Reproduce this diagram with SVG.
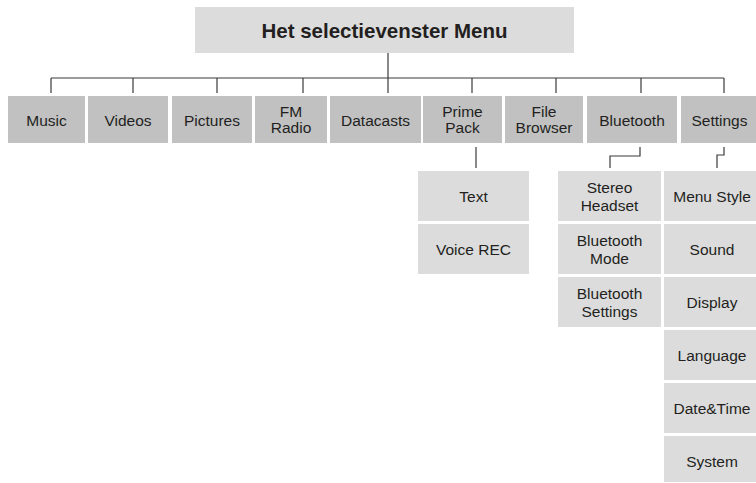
<svg xmlns="http://www.w3.org/2000/svg" width="756" height="483" viewBox="0 0 756 483">
<style>
.t{font-family:"Liberation Sans",Arial,sans-serif;font-size:15.5px;fill:#231f20;text-anchor:middle}
.h{font-family:"Liberation Sans",Arial,sans-serif;font-size:20.5px;font-weight:bold;fill:#231f20;text-anchor:middle}
.top{fill:#c1c1c2}
.sub{fill:#dcdcdd}
.c{fill:none;stroke:#3a3a3a;stroke-width:1.2}
</style>
<rect width="756" height="483" fill="#ffffff"/>
<g id="connectors">
<path class="c" d="M388,53 V78 M51,78 H724 M51,78 V93 M133,78 V93 M217,78 V93 M303,78 V93 M388,78 V93 M472,78 V93 M556,78 V93 M641,78 V93 M724,78 V93"/>
<path class="c" d="M476,147 V168"/>
<path class="c" d="M640,147 V156 H610 V168"/>
<path class="c" d="M724,147 V155 H717 V168"/>
</g>
<g id="title"><rect class="sub" x="195" y="7" width="379" height="46"/><text class="h" x="384.5" y="37.5">Het selectievenster Menu</text></g>
<g id="music"><rect class="top" x="8" y="96" width="77" height="47"/><text class="t" x="46.5" y="125.5">Music</text></g>
<g id="videos"><rect class="top" x="88" y="96" width="80" height="47"/><text class="t" x="128" y="125.5">Videos</text></g>
<g id="pictures"><rect class="top" x="172" y="96" width="80" height="47"/><text class="t" x="212" y="125.5">Pictures</text></g>
<g id="fmradio"><rect class="top" x="255" y="96" width="72" height="47"/><text class="t" x="291" y="116.5">FM</text><text class="t" x="291" y="132.5">Radio</text></g>
<g id="datacasts"><rect class="top" x="330" y="96" width="91" height="47"/><text class="t" x="375.5" y="125.5">Datacasts</text></g>
<g id="primepack"><rect class="top" x="423" y="96" width="79" height="47"/><text class="t" x="462.5" y="116.5">Prime</text><text class="t" x="462.5" y="132.5">Pack</text></g>
<g id="filebrowser"><rect class="top" x="505" y="96" width="78" height="47"/><text class="t" x="544" y="116.5">File</text><text class="t" x="544" y="132.5">Browser</text></g>
<g id="bluetooth"><rect class="top" x="587" y="96" width="90" height="47"/><text class="t" x="632" y="125.5">Bluetooth</text></g>
<g id="settings"><rect class="top" x="681" y="96" width="75" height="47"/><text class="t" x="719.5" y="125.5">Settings</text></g>
<g id="text"><rect class="sub" x="418" y="171" width="111" height="50"/><text class="t" x="473.5" y="202">Text</text></g>
<g id="voicerec"><rect class="sub" x="418" y="224" width="111" height="50"/><text class="t" x="473.5" y="255">Voice REC</text></g>
<g id="stereoheadset"><rect class="sub" x="558" y="171" width="103" height="50"/><text class="t" x="609.5" y="193">Stereo</text><text class="t" x="609.5" y="210.5">Headset</text></g>
<g id="bluetoothmode"><rect class="sub" x="558" y="224" width="103" height="50"/><text class="t" x="609.5" y="246">Bluetooth</text><text class="t" x="609.5" y="263.5">Mode</text></g>
<g id="bluetoothsettings"><rect class="sub" x="558" y="277" width="103" height="50"/><text class="t" x="609.5" y="299">Bluetooth</text><text class="t" x="609.5" y="316.5">Settings</text></g>
<g id="menustyle"><rect class="sub" x="664" y="171" width="92" height="50"/><text class="t" x="712" y="202">Menu Style</text></g>
<g id="sound"><rect class="sub" x="664" y="224" width="92" height="50"/><text class="t" x="712" y="255">Sound</text></g>
<g id="display"><rect class="sub" x="664" y="277" width="92" height="50"/><text class="t" x="712" y="308">Display</text></g>
<g id="language"><rect class="sub" x="664" y="330" width="92" height="50"/><text class="t" x="712" y="361">Language</text></g>
<g id="datetime"><rect class="sub" x="664" y="383" width="92" height="50"/><text class="t" x="712" y="414">Date&amp;Time</text></g>
<g id="system"><rect class="sub" x="664" y="436" width="92" height="46"/><text class="t" x="712" y="467">System</text></g>
</svg>
